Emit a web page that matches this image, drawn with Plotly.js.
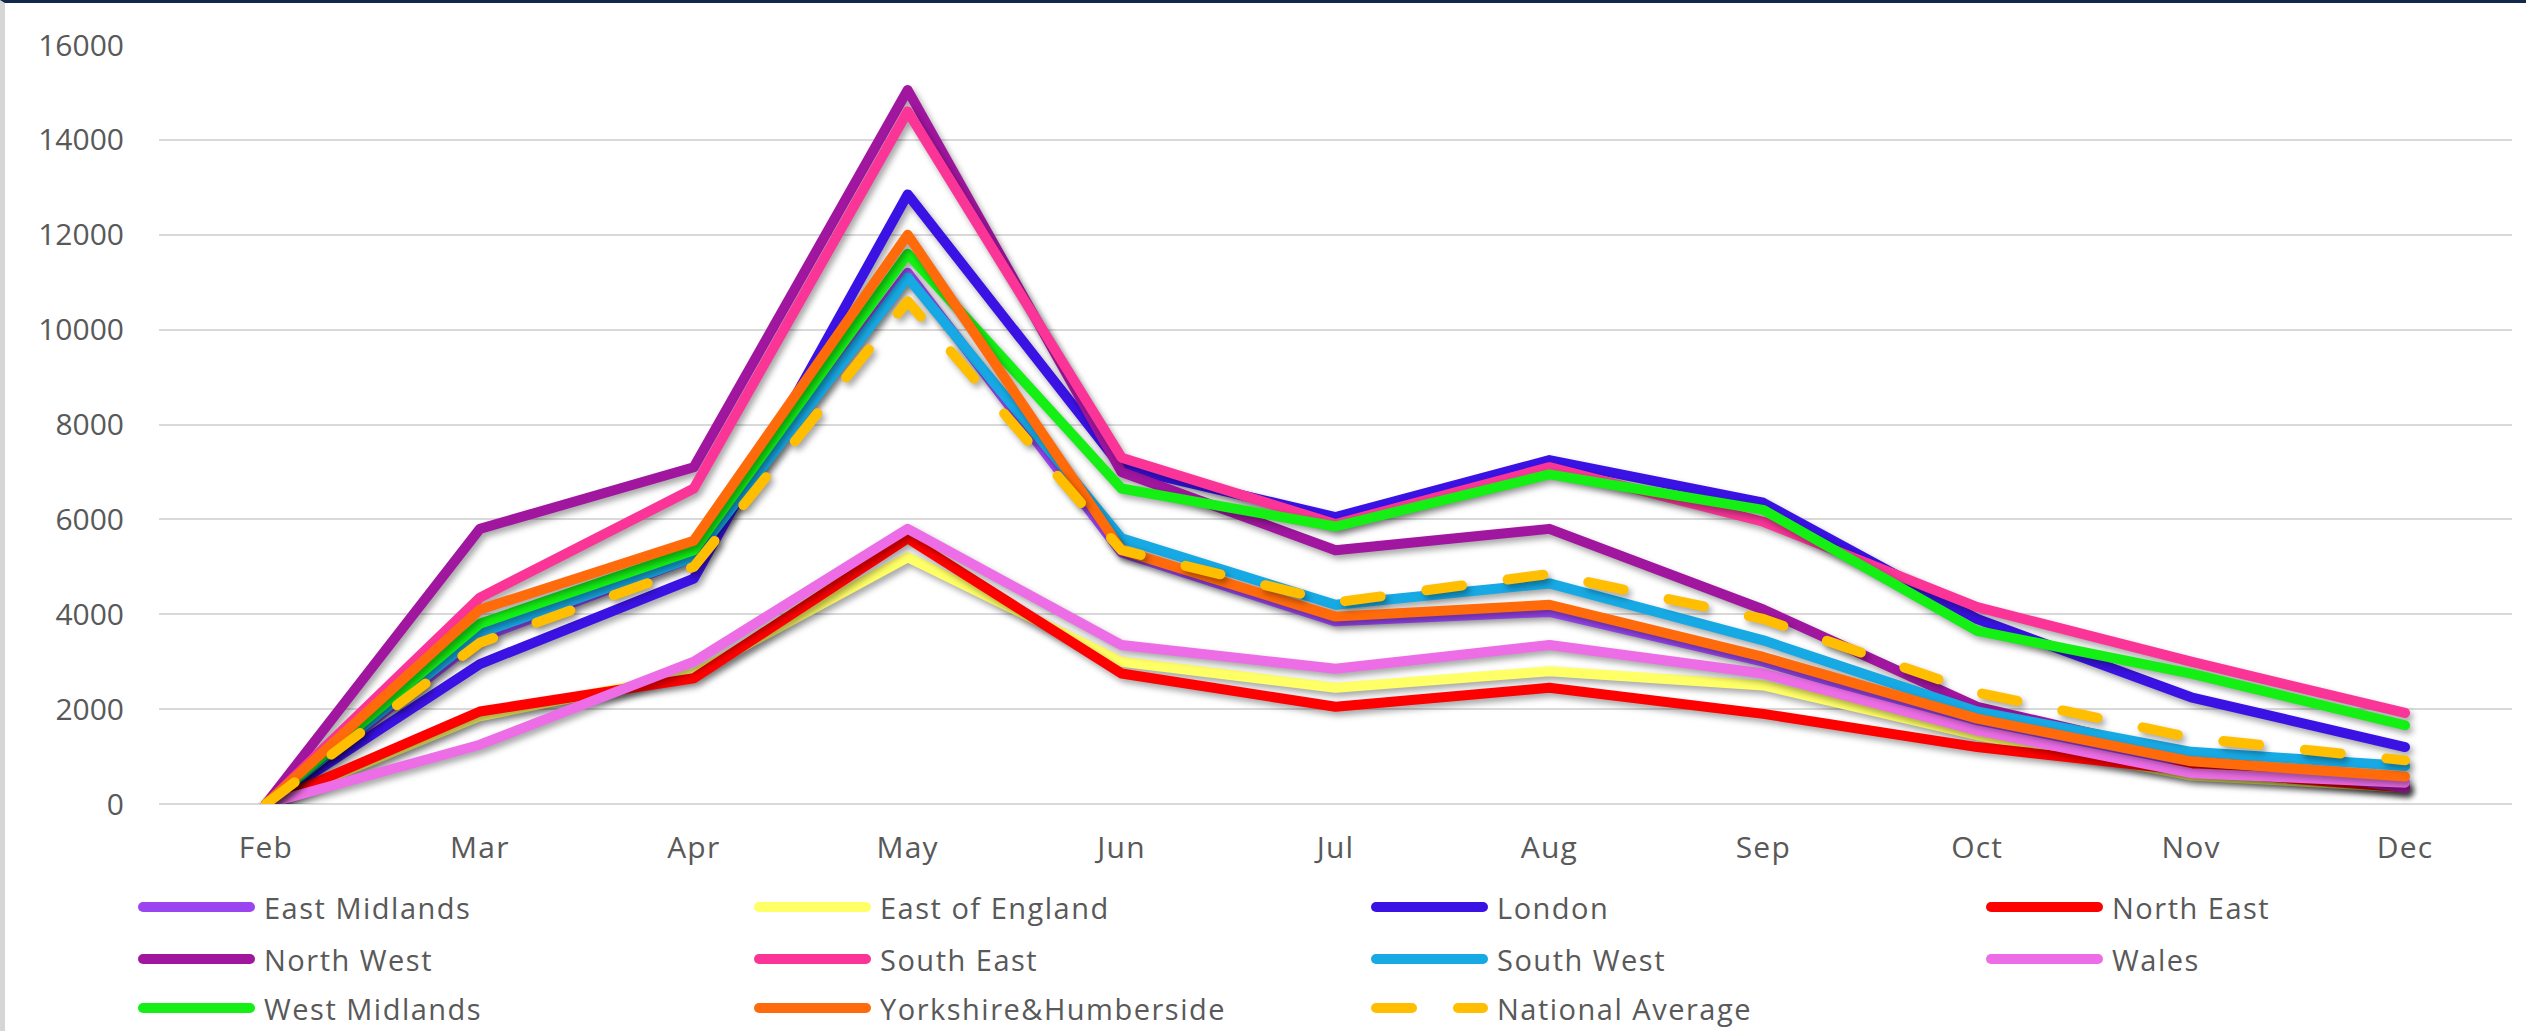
<!DOCTYPE html>
<html>
<head>
<meta charset="utf-8">
<script src="https://cdn.plot.ly/plotly-3.0.1.min.js"></script>
<style>
html,body{margin:0;padding:0;background:#ffffff;overflow:hidden;}
#chart{position:absolute;left:0;top:0;width:2526px;height:1031px;}
#frame{position:absolute;left:0;top:0;width:2526px;height:1031px;box-sizing:border-box;border-top:3px solid #13294b;border-left:5px solid #d6d6d6;pointer-events:none;}
.scatterlayer .js-line{stroke-linecap:round !important;stroke-linejoin:round !important;filter:drop-shadow(3px 4px 3px rgba(0,0,0,0.35));}
.shapelayer path{stroke-linecap:round !important;}
.xtick text{letter-spacing:1.2px;}
.annotation-text{letter-spacing:1.5px;}
</style>
</head>
<body>
<div id="chart"></div>
<div id="frame"></div>
<script>
// ---- data ----
var months = ["Feb","Mar","Apr","May","Jun","Jul","Aug","Sep","Oct","Nov","Dec"];

var seriesNames = ["East Midlands","East of England","London","North East","North West",
  "South East","South West","Wales","West Midlands","Yorkshire&Humberside","National Average"];

var eastMidlands   = [0, 3500, 5200, 11200, 5300, 3850, 4050, 3000, 1700,  800,  380];
var eastOfEngland  = [0, 1850, 2750,  5200, 3000, 2450, 2800, 2500, 1450,  600,  350];
var london         = [0, 2950, 4750, 12850, 7100, 6050, 7250, 6350, 3900, 2250, 1200];
var northEast      = [0, 1950, 2650,  5600, 2750, 2050, 2450, 1900, 1200,  700,  350];
var northWest      = [0, 5800, 7100, 15050, 7000, 5350, 5800, 4100, 2050, 1000,  340];
var southEast      = [0, 4350, 6650, 14600, 7300, 5900, 7100, 5950, 4150, 3000, 1920];
var southWest      = [0, 3600, 5200, 11100, 5600, 4200, 4650, 3450, 1950, 1100,  800];
var wales          = [0, 1250, 3000,  5800, 3350, 2850, 3350, 2750, 1550,  650,  450];
var westMidlands   = [0, 3800, 5350, 11600, 6650, 5850, 6950, 6200, 3650, 2750, 1660];
var yorkshire      = [0, 4100, 5550, 12000, 5350, 3950, 4200, 3100, 1800,  900,  580];
var nationalAvg    = [0, 3400, 5000, 10600, 5350, 4250, 4850, 3900, 2350, 1400,  920];

var yTickVals = [0, 2000, 4000, 6000, 8000, 10000, 12000, 14000, 16000];

// ---- styles ----
var allValues = [eastMidlands, eastOfEngland, london, northEast, northWest,
  southEast, southWest, wales, westMidlands, yorkshire, nationalAvg];
var colors = ["#9a45f0","#ffff66","#3a12e4","#ff0000","#a0169f",
  "#fb3598","#17a9e4","#ec6de6","#14f014","#ff6a0a","#ffbf00"];
var dashes = ["solid","solid","solid","solid","solid","solid","solid","solid","solid","solid","36px,46px"];

var textColor = "#595959";
var fontFam = "'Open Sans', 'Noto Sans', sans-serif";

var W = 2526, H = 1031;
var L = 159, R = 2512, T = 45, B = 804;

var traces = [];
for (var i = 0; i < seriesNames.length; i++) {
  traces.push({
    type: "scatter", mode: "lines",
    x: months, y: allValues[i], name: seriesNames[i],
    line: {color: colors[i], width: 10, dash: dashes[i]},
    showlegend: false, hoverinfo: "skip"
  });
}

// ---- custom legend (long line samples as in the original) ----
var colX = [138, 754, 1371, 1986];
var rowY = [907, 959, 1008];
var sampleLen = 117;
function px2x(p){ return (p - L) / (R - L); }
function px2y(p){ return (B - p) / (B - T); }
var shapes = [], annotations = [];
for (var k = 0; k < seriesNames.length; k++) {
  var c = k % 4, r = Math.floor(k / 4);
  var x0 = colX[c], yy = rowY[r];
  shapes.push({
    type: "line", xref: "paper", yref: "paper",
    x0: px2x(x0 + 5), x1: px2x(x0 + sampleLen - 5), y0: px2y(yy), y1: px2y(yy),
    line: {color: colors[k], width: 10, dash: dashes[k] === "solid" ? "solid" : "36px,46px"}
  });
  annotations.push({
    xref: "paper", yref: "paper", x: px2x(x0 + sampleLen + 8), y: px2y(yy),
    xanchor: "left", yanchor: "middle", showarrow: false, borderpad: 0,
    text: seriesNames[k], font: {family: fontFam, size: 29, color: textColor}
  });
}

var layout = {
  width: W, height: H,
  margin: {l: L, r: W - R, t: T, b: H - B, pad: 0},
  paper_bgcolor: "rgba(0,0,0,0)", plot_bgcolor: "rgba(0,0,0,0)",
  showlegend: false,
  font: {family: fontFam, color: textColor},
  xaxis: {
    type: "category", range: [-0.5, months.length - 0.5],
    showgrid: false, zeroline: false, showline: false, ticks: "",
    tickfont: {family: fontFam, size: 30, color: textColor},
    ticklabelstandoff: 23, fixedrange: true
  },
  yaxis: {
    range: [0, 16000], tickmode: "array", tickvals: yTickVals,
    ticktext: yTickVals.map(function(v){ return String(v); }),
    showgrid: true, gridcolor: "#d9d9d9", gridwidth: 2,
    zeroline: true, zerolinecolor: "#d9d9d9", zerolinewidth: 2,
    showline: false, ticks: "",
    tickfont: {family: fontFam, size: 30, color: textColor},
    ticklabelstandoff: 34, fixedrange: true
  },
  shapes: shapes,
  annotations: annotations
};

Plotly.newPlot("chart", traces, layout, {staticPlot: true, displayModeBar: false});
</script>
</body>
</html>
